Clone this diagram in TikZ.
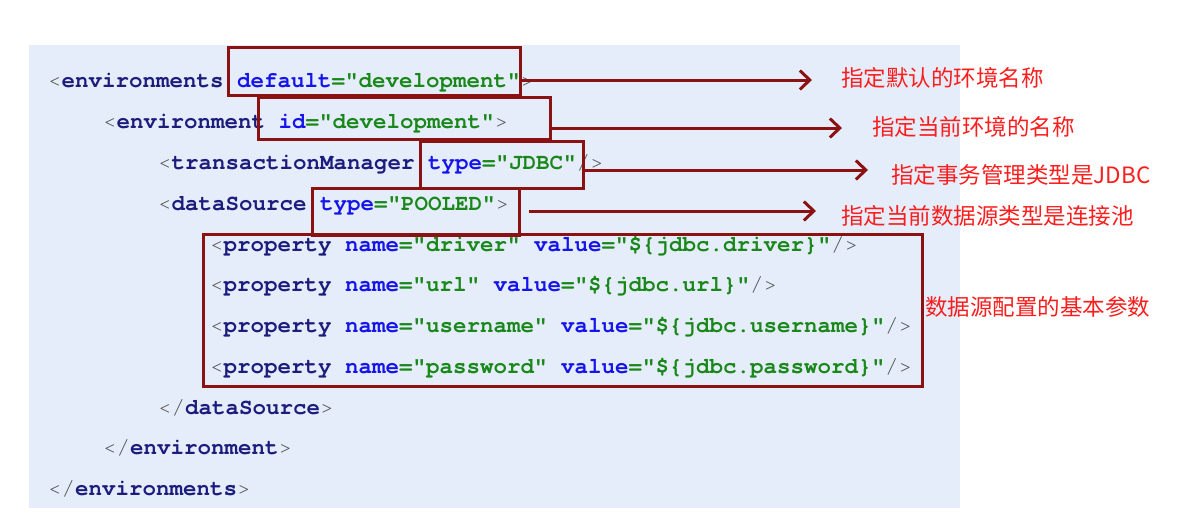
\documentclass[tikz,border=0pt]{standalone}
\usepackage{fontspec}
\setmonofont{TeX Gyre Cursor}
\newfontfamily\cjk{Noto Sans CJK SC}
\usetikzlibrary{arrows.meta}

\definecolor{bgblue}{RGB}{229,237,251}
\definecolor{boxred}{RGB}{138,18,18}
\definecolor{notered}{RGB}{250,30,30}
\definecolor{tagnavy}{RGB}{28,28,125}
\definecolor{attblue}{RGB}{20,20,235}
\definecolor{valgreen}{RGB}{25,135,25}
\definecolor{brkgray}{RGB}{85,85,85}

\newcommand\brk[1]{\textcolor{brkgray}{#1}}
\newcommand\tagn[1]{\textcolor{tagnavy}{\bfseries #1}}
\newcommand\attr[1]{\textcolor{attblue}{\bfseries #1}}
\newcommand\valu[1]{\textcolor{valgreen}{\bfseries #1}}

\tikzset{
  code/.style={anchor=base west, inner sep=0pt, font=\ttfamily\fontsize{22.5}{27}\selectfont},
  hbox/.style={draw=boxred, line width=3pt, inner sep=0pt},
  note/.style={anchor=west, inner sep=0pt, text=notered, font=\cjk\fontsize{22.5}{27}\selectfont},
  arrow/.style={draw=boxred, line width=3pt, -{Straight Barb[length=10pt,width=19pt]}}
}

\begin{document}
\begin{tikzpicture}[x=1pt,y=-1pt]
  \useasboundingbox (0,0) rectangle (1188,515);
  \fill[bgblue] (29,45) rectangle (960,508);

  % code lines
  \node[code] (l1) at (48,87) {\brk{<}\tagn{environments} \attr{default}\valu{="development"}\brk{>}};
  \node[code] (l2) at (103,128) {\brk{<}\tagn{environment} \attr{id}\valu{="development"}\brk{>}};
  \node[code] (l3) at (158,169) {\brk{<}\tagn{transactionManager} \attr{type}\valu{="JDBC"}\brk{/>}};
  \node[code] (l4) at (158,210) {\brk{<}\tagn{dataSource} \attr{type}\valu{="POOLED"}\brk{>}};
  \node[code] (l5) at (210,251) {\brk{<}\tagn{property} \attr{name}\valu{="driver"} \attr{value}\valu{="\$\{jdbc.driver\}"}\brk{/>}};
  \node[code] (l6) at (210,291) {\brk{<}\tagn{property} \attr{name}\valu{="url"} \attr{value}\valu{="\$\{jdbc.url\}"}\brk{/>}};
  \node[code] (l7) at (210,332) {\brk{<}\tagn{property} \attr{name}\valu{="username"} \attr{value}\valu{="\$\{jdbc.username\}"}\brk{/>}};
  \node[code] (l8) at (210,373) {\brk{<}\tagn{property} \attr{name}\valu{="password"} \attr{value}\valu{="\$\{jdbc.password\}"}\brk{/>}};
  \node[code] (l9) at (158,414) {\brk{</}\tagn{dataSource}\brk{>}};
  \node[code] (l10) at (103,454) {\brk{</}\tagn{environment}\brk{>}};
  \node[code] (l11) at (48,495) {\brk{</}\tagn{environments}\brk{>}};

  % highlight boxes
  \node[hbox, minimum width=292pt, minimum height=48pt] (b1) at (374,71) {};
  \node[hbox, minimum width=292pt, minimum height=42pt] (b2) at (404,118) {};
  \node[hbox, minimum width=163pt, minimum height=47pt] (b3) at (501.5,164.5) {};
  \node[hbox, minimum width=207pt, minimum height=47pt] (b4) at (415.5,212) {};
  \node[hbox, minimum width=719pt, minimum height=152pt] (b5) at (562.5,310) {};

  % notes
  \node[note] (t1) at (841,78) {指定默认的环境名称};
  \node[note] (t2) at (872,127) {指定当前环境的名称};
  \node[note] (t3) at (891,175) {指定事务管理类型是JDBC};
  \node[note] (t4) at (841,216) {指定当前数据源类型是连接池};
  \node[note] (t5) at (925,307) {数据源配置的基本参数};

  \coordinate (e1) at (812,80);
  \coordinate (e2) at (842,128);
  \coordinate (e3) at (868,170);
  \coordinate (e4) at (816,211);
  \draw[arrow] (b1.east |- e1) -- (e1);
  \draw[arrow] (b2.east |- e2) -- (e2);
  \draw[arrow] (b3.east |- e3) -- (e3);
  \draw[arrow] ([xshift=8pt]b4.east |- e4) -- (e4);
\end{tikzpicture}
\end{document}
